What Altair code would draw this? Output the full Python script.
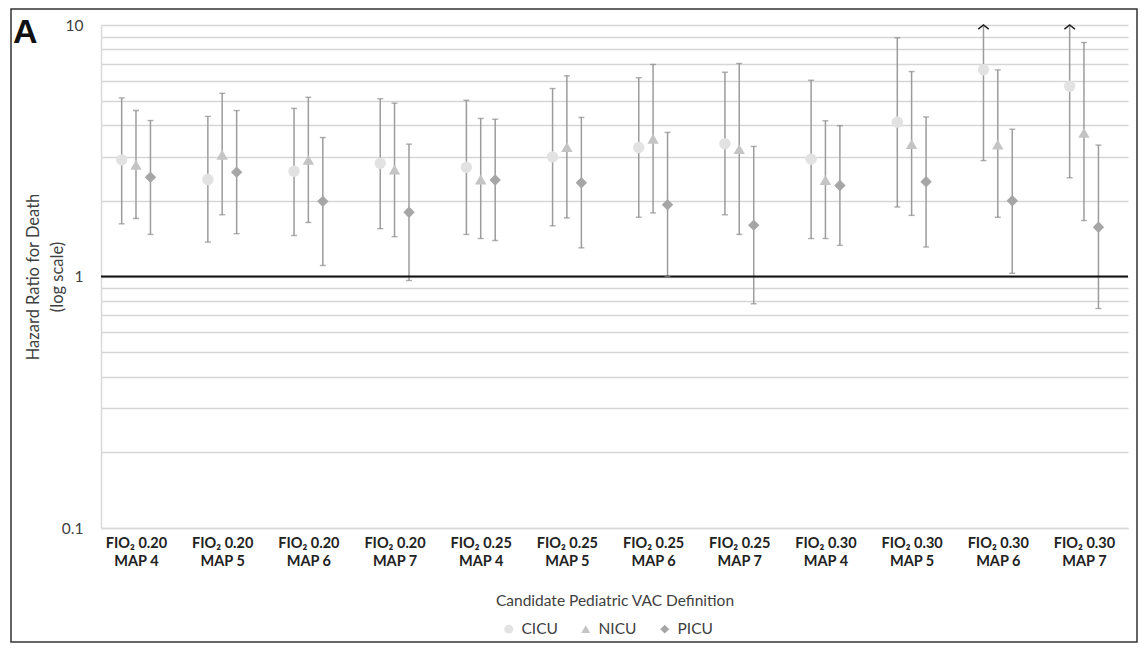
import altair as alt
import pandas as pd

# ---------------- data ----------------
CATEGORIES = ["FIO₂ 0.20|MAP 4", "FIO₂ 0.20|MAP 5", "FIO₂ 0.20|MAP 6", "FIO₂ 0.20|MAP 7",
              "FIO₂ 0.25|MAP 4", "FIO₂ 0.25|MAP 5", "FIO₂ 0.25|MAP 6", "FIO₂ 0.25|MAP 7",
              "FIO₂ 0.30|MAP 4", "FIO₂ 0.30|MAP 5", "FIO₂ 0.30|MAP 6", "FIO₂ 0.30|MAP 7"]
UNITS = ["CICU", "NICU", "PICU"]

CICU_HR = [2.91, 2.43, 2.62, 2.82, 2.72, 2.99, 3.26, 3.37, 2.93, 4.11, 6.64, 5.71]
CICU_LO = [1.62, 1.37, 1.455, 1.55, 1.47, 1.59, 1.72, 1.76, 1.416, 1.89, 2.89, 2.47]
CICU_HI = [5.13, 4.33, 4.66, 5.09, 5.02, 5.59, 6.17, 6.49, 6.03, 8.9, 10.0, 10.0]
CICU_OPEN = [False] * 10 + [True, True]   # upper limit beyond axis (arrow)

NICU_HR = [2.78, 3.05, 2.91, 2.66, 2.43, 3.27, 3.53, 3.21, 2.42, 3.36, 3.35, 3.73]
NICU_LO = [1.70, 1.76, 1.64, 1.44, 1.416, 1.71, 1.79, 1.47, 1.416, 1.75, 1.72, 1.67]
NICU_HI = [4.57, 5.35, 5.16, 4.89, 4.25, 6.28, 6.97, 7.03, 4.16, 6.53, 6.63, 8.52]

PICU_HR = [2.48, 2.60, 1.99, 1.80, 2.42, 2.36, 1.93, 1.60, 2.30, 2.38, 2.00, 1.57]
PICU_LO = [1.47, 1.48, 1.106, 0.964, 1.39, 1.30, 1.00, 0.779, 1.33, 1.31, 1.03, 0.746]
PICU_HI = [4.17, 4.57, 3.57, 3.36, 4.22, 4.29, 3.74, 3.29, 3.98, 4.31, 3.85, 3.33]

REFERENCE_HR = [1.0]
Y_TICKS = [0.1, 0.2, 0.3, 0.4, 0.5, 0.6, 0.7, 0.8, 0.9,
           1, 2, 3, 4, 5, 6, 7, 8, 9, 10]
Y_LABELED = [0.1, 1, 10]

# ---------------- styling constants ----------------
FONT = "Lato"
UNIT_COLORS = ["#e2e2e2", "#c4c4c4", "#a6a6a6"]
UNIT_SHAPES = ["circle", "triangle-up", "diamond"]
UNIT_SHIFT = {"CICU": -0.166, "NICU": 0.0, "PICU": 0.168}
BAR_COLOR = "#9c9c9c"

W, H = 1027, 503

rows = []
series = {
    "CICU": (CICU_HR, CICU_LO, CICU_HI, CICU_OPEN),
    "NICU": (NICU_HR, NICU_LO, NICU_HI, [False] * 12),
    "PICU": (PICU_HR, PICU_LO, PICU_HI, [False] * 12),
}
for unit in UNITS:
    hr, lo, hi, op = series[unit]
    for i, cat in enumerate(CATEGORIES):
        rows.append({"cat": cat, "idx": i + 1, "pos": i + 1 + UNIT_SHIFT[unit],
                     "unit": unit, "hr": hr[i], "lo": lo[i], "hi": hi[i], "open": op[i]})
df = pd.DataFrame(rows)

label_arr = "[" + ",".join("'" + c + "'" for c in CATEGORIES) + "]"
x_scale = alt.Scale(domain=[0.594, 12.511], nice=False, zero=False)
x_axis = alt.Axis(values=list(range(1, 13)),
                  labelExpr=f"split({label_arr}[datum.value-1], '|')",
                  title="Candidate Pediatric VAC Definition",
                  grid=False, ticks=False, domain=True, domainColor="#d9d9d9",
                  domainWidth=1.5, labelFont=FONT, labelFontWeight="bold",
                  labelFontSize=14.5, labelColor="#222222", labelPadding=8,
                  labelLineHeight=18.5, labelFlush=False,
                  titleFont=FONT, titleFontSize=15.5, titleFontWeight="normal",
                  titleColor="#404040", titleY=72, titleBaseline="middle")
labeled_expr = " || ".join(f"datum.value == {v}" for v in Y_LABELED)
y_scale = alt.Scale(type="log", domain=[0.1, 10], nice=False)
y_axis = alt.Axis(values=Y_TICKS, format="~g",
                  labelExpr=f"({labeled_expr}) ? datum.label : ''",
                  title=["Hazard Ratio for Death", "(log scale)"],
                  grid=True, gridColor="#d6d6d6", gridWidth=1.5,
                  ticks=False, domain=True, domainColor="#d9d9d9", domainWidth=1.5,
                  labelFont=FONT, labelFontSize=15.5, labelColor="#404040",
                  labelPadding=18,
                  titleFont=FONT, titleFontSize=16.5, titleFontWeight="normal",
                  titleColor="#404040", titleLineHeight=24,
                  titleX=-68, titleY=H / 2, titleBaseline="middle", titleAngle=-90)

base = alt.Chart(df)

bars = base.mark_rule(color=BAR_COLOR, strokeWidth=1.5).encode(
    x=alt.X("pos:Q", scale=x_scale, axis=x_axis),
    y=alt.Y("lo:Q", scale=y_scale, axis=y_axis),
    y2="hi:Q",
)
caps_lo = base.mark_tick(color="#8c8c8c", thickness=1.4, size=6, orient="horizontal").encode(
    x=alt.X("pos:Q", scale=x_scale),
    y=alt.Y("lo:Q", scale=y_scale),
)
caps_hi = base.transform_filter("!datum.open").mark_tick(
    color="#8c8c8c", thickness=1.4, size=6, orient="horizontal").encode(
    x=alt.X("pos:Q", scale=x_scale),
    y=alt.Y("hi:Q", scale=y_scale),
)
arrows = base.transform_filter("datum.open").mark_point(
    shape="M-1,0.8L0,0L1,0.8", filled=False, stroke="#222222", strokeWidth=1.5,
    size=110, opacity=1).encode(
    x=alt.X("pos:Q", scale=x_scale),
    y=alt.Y("hi:Q", scale=y_scale),
)
ref = alt.Chart(pd.DataFrame({"ref": REFERENCE_HR})).mark_rule(
    color="#111111", strokeWidth=2).encode(y=alt.Y("ref:Q", scale=y_scale))

points = base.mark_point(filled=True, opacity=1, size=130).encode(
    x=alt.X("pos:Q", scale=x_scale),
    y=alt.Y("hr:Q", scale=y_scale),
    color=alt.Color("unit:N", scale=alt.Scale(domain=UNITS, range=UNIT_COLORS),
                    legend=alt.Legend(title=None, orient="none", direction="horizontal",
                                      legendX=400, legendY=596, labelFont=FONT,
                                      labelFontSize=15.5, labelColor="#404040",
                                      symbolSize=80, columnPadding=20, labelOffset=5,
                                      symbolStrokeWidth=0)),
    shape=alt.Shape("unit:N", scale=alt.Scale(domain=UNITS, range=UNIT_SHAPES)),
)

frame = alt.Chart(alt.Data(values=[{}])).mark_rect(
    fill=None, fillOpacity=0, stroke="#333333", strokeWidth=1.5).encode(
    x=alt.value(-90), x2=alt.value(1036), y=alt.value(-16), y2=alt.value(617))
letter = alt.Chart(alt.Data(values=[{}])).mark_text(
    text="A", font="Liberation Sans", fontWeight="bold", fontSize=34,
    align="left", baseline="alphabetic", color="#111111").encode(
    x=alt.value(-88), y=alt.value(18))

chart = alt.layer(frame, letter, bars, ref, caps_lo, caps_hi, arrows, points).properties(
    width=W, height=H,
    autosize=alt.AutoSizeParams(type="none"),
    padding={"left": 93, "top": 17, "right": 10, "bottom": 116},
    background="white",
).configure_view(stroke=None)

chart.save("out.html", embed_options={"renderer": "svg", "actions": False})
